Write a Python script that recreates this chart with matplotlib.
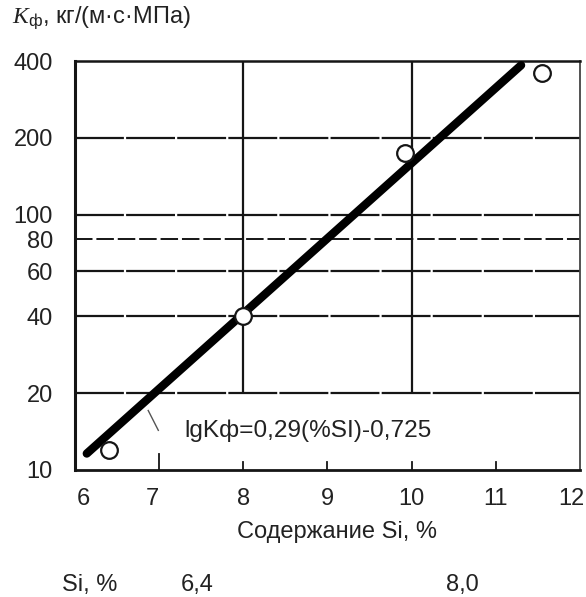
"""Kf vs Si content (log scale), recreated from a scanned figure."""
import matplotlib
matplotlib.use("Agg")
import matplotlib.pyplot as plt
import matplotlib.transforms as mtransforms

plt.rcParams["font.family"] = ["Liberation Sans", "DejaVu Sans"]
plt.rcParams["mathtext.fontset"] = "custom"
plt.rcParams["mathtext.it"] = "Liberation Serif:italic"
plt.rcParams["mathtext.rm"] = "Liberation Sans"

# %% data ---------------------------------------------------------------------
si_pts = [6.4, 8.0, 9.92, 11.55]          # measured points, % Si
kf_pts = [12, 40, 175, 360]               # Kf, kg/(m s MPa)
fit_si = [6.14, 11.3]                     # ends of the drawn regression line
fit_kf = [11.6, 385]
leader_si = [6.87, 6.99]                  # little pointer stroke near the equation
leader_kf = [17.1, 14.3]

x_ticks = [6, 7, 8, 9, 10, 11, 12]
y_ticks = [10, 20, 40, 60, 80, 100, 200, 400]
h_grid = [20, 40, 60, 100, 200]
h_grid_dashed = [80]
v_grid = [8, 10]
bottom_marks_tall = [7]
bottom_marks_short = [8, 9, 10, 11]

equation = "lgKф=0,29(%SI)-0,725"
table_head = "Si, %"
table_vals = ["6,4", "8,0"]

FS = 17
INK = "#151515"
TXT = "#222222"

# %% figure -------------------------------------------------------------------
fig = plt.figure(figsize=(5.86, 5.97), dpi=100)
ax = fig.add_axes([75 / 586, 127 / 597, 505 / 586, 409 / 597])
ax.set_yscale("log")
ax.set_xlim(6, 12)
ax.set_ylim(10, 400)

# grid, drawn by hand since it is partial and rough in the original
ax.hlines(h_grid, 6, 12, color=INK, lw=1.6, linestyles=[(0, (22, 1.0))], zorder=1)
ax.hlines(h_grid_dashed, 6, 12, color=INK, lw=1.4, linestyles=[(0, (9, 2.0))], zorder=1)
ax.vlines(v_grid, 20, 400, color=INK, lw=1.6, zorder=1)

blend = mtransforms.blended_transform_factory(ax.transData, ax.transAxes)
for x in bottom_marks_tall:
    ax.plot([x, x], [0, 0.04], color=INK, lw=1.3, transform=blend)
for x in bottom_marks_short:
    ax.plot([x, x], [0, 0.02], color=INK, lw=1.3, transform=blend)

# regression line and points
ax.plot(fit_si, fit_kf, color="black", lw=6, solid_capstyle="round", zorder=3)
ax.plot(si_pts, kf_pts, "o", ms=12, mfc="white", mec=INK, mew=1.6, zorder=4,
        clip_on=False)
ax.plot(leader_si, leader_kf, color="#555555", lw=1.0, zorder=2)
ax.text(7.3, 14.3, equation, fontsize=17.6, color=TXT, va="center", ha="left")

# spines
for side, lw, col in [("left", 2.2, INK), ("bottom", 2.0, INK),
                      ("top", 1.8, INK), ("right", 1.3, "#444444")]:
    ax.spines[side].set_linewidth(lw)
    ax.spines[side].set_color(col)

# y ticks
ax.set_yticks(y_ticks)
ax.set_yticklabels([str(v) for v in y_ticks], fontsize=FS, color=TXT)
ax.yaxis.set_minor_locator(matplotlib.ticker.NullLocator())
ax.tick_params(axis="y", length=0, pad=16)

# x ticks: labels drawn by annotate so the edge ones can be nudged like the scan
ax.set_xticks(x_ticks)
ax.set_xticklabels([])
ax.tick_params(axis="x", length=0)
nudge = {6: 6, 7: -5}
for v in x_ticks:
    if v == x_ticks[-1]:
        ha, dx = "right", 3.5
    else:
        ha, dx = "center", nudge.get(v, 0)
    ax.annotate(str(v), xy=(v, 0), xycoords=blend,
                xytext=(dx, -13), textcoords="offset points",
                ha=ha, va="top", fontsize=FS, color=TXT,
                annotation_clip=False)

# texts outside the axes
fig.text(12 / 586, 1 - 18 / 597, r"$K_{\mathrm{ф}}$, кг/(м·с·МПа)",
         fontsize=FS, color=TXT, ha="left", va="center")
fig.text(337 / 586, 1 - 532 / 597, "Содержание Si, %", fontsize=FS,
         color=TXT, ha="center", va="center")
fig.text(62 / 586, 1 - 585 / 597, table_head, fontsize=FS, color=TXT,
         ha="left", va="center")
for xpix, s in zip([197, 462], table_vals):
    fig.text(xpix / 586, 1 - 585 / 597, s, fontsize=FS, color=TXT,
             ha="center", va="center")

fig.savefig("out.png", dpi=100)
